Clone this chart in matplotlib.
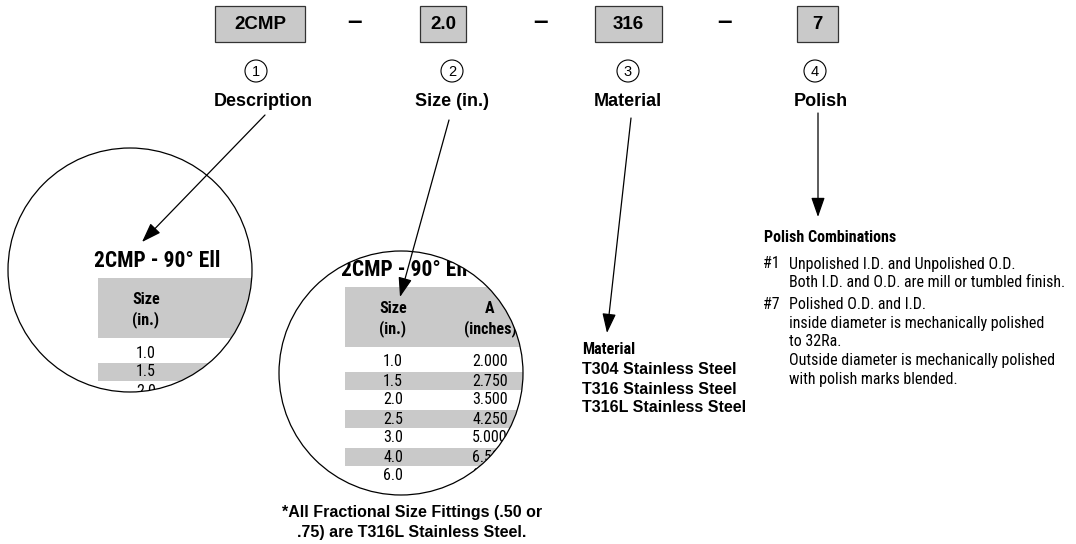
import matplotlib
matplotlib.use("Agg")
import matplotlib.pyplot as plt
import numpy as np
from matplotlib import font_manager
from matplotlib.patches import Circle, Rectangle, FancyArrowPatch, PathPatch
from matplotlib.path import Path

# part number pieces
codes = ["2CMP", "2.0", "316", "7"]
numbers = ["1", "2", "3", "4"]
fields = ["Description", "Size (in.)", "Material", "Polish"]

# dimension table shown in the magnifier circles
table_title = "2CMP - 90° Ell"
sizes = ["1.0", "1.5", "2.0", "2.5", "3.0", "4.0", "6.0"]
a_inches = ["2.000", "2.750", "3.500", "4.250", "5.000", "6.500", "9.500"]

materials = ["T304 Stainless Steel", "T316 Stainless Steel", "T316L Stainless Steel"]
polish_codes = ["#1", "#7"]
polish_notes = [
    ["Unpolished I.D. and Unpolished O.D.",
     "Both I.D. and O.D. are mill or tumbled finish."],
    ["Polished O.D. and I.D.",
     "inside diameter is mechanically polished",
     "to 32Ra.",
     "Outside diameter is mechanically polished",
     "with polish marks blended."],
]
footnote = ["*All Fractional Size Fittings (.50 or", ".75) are T316L Stainless Steel."]

GRAY = "#c9c9c9"
SANS = "Liberation Sans"

# a condensed face for the table / notes text, whichever is installed
font_names = {f.name for f in font_manager.fontManager.ttflist}
NARROW = {"family": "DejaVu Sans", "stretch": "condensed"}
shrink = 0.88
for name in ["Roboto Condensed", "Liberation Sans Narrow", "Arial Narrow"]:
    if name in font_names:
        NARROW = {"family": name}
        shrink = 1.0
        break


def arrow(ax, start, end):
    ax.add_patch(FancyArrowPatch(
        start, end, arrowstyle="-|>,head_length=1.2,head_width=0.42",
        mutation_scale=10, linewidth=0.9, color="black",
        shrinkA=0, shrinkB=0, zorder=10))


def outside_mask(ax, center, radius, box):
    """White patch covering box minus the circle (Agg won't clip text)."""
    x0, y0, x1, y1 = box
    outer = [(x0, y0), (x1, y0), (x1, y1), (x0, y1), (x0, y0)]
    t = np.linspace(0, 2 * np.pi, 361)
    inner = list(zip(center[0] + radius * np.cos(t),
                     center[1] - radius * np.sin(t)))
    verts = outer + inner
    path_codes = ([Path.MOVETO] + [Path.LINETO] * 3 + [Path.CLOSEPOLY]
                  + [Path.MOVETO] + [Path.LINETO] * (len(inner) - 2)
                  + [Path.CLOSEPOLY])
    ax.add_patch(PathPatch(Path(verts, path_codes), facecolor="white",
                           edgecolor="none", zorder=4))


def dim_table(ax, clip, x0, y0, with_a=True):
    header_h = 60
    step = 19
    items = []
    items.append(ax.text(x0 - 4, y0 - 17, table_title, fontsize=15.5 * shrink,
                         fontweight="bold", va="center", ha="left", **NARROW))
    items.append(ax.add_patch(Rectangle((x0, y0), 400, header_h,
                                        facecolor=GRAY, edgecolor="none")))
    size_x = x0 + 48
    a_x = x0 + 145
    items.append(ax.text(size_x, y0 + 32, "Size\n(in.)", fontsize=11.5 * shrink,
                         fontweight="bold", ha="center", va="center",
                         linespacing=1.3, **NARROW))
    if with_a:
        items.append(ax.text(a_x, y0 + 32, "A\n(inches)", fontsize=11.5 * shrink,
                             fontweight="bold", ha="center", va="center",
                             linespacing=1.3, **NARROW))
    for i, s in enumerate(sizes):
        yc = y0 + header_h + 15 + i * step
        if i % 2 == 1:
            items.append(ax.add_patch(Rectangle((x0, yc - 8.7), 400, 17.4,
                                                facecolor=GRAY, edgecolor="none")))
        items.append(ax.text(size_x, yc, s, fontsize=11.5 * shrink, ha="center",
                             va="center", **NARROW))
        if with_a:
            items.append(ax.text(a_x, yc, a_inches[i], fontsize=11.5 * shrink,
                                 ha="center", va="center", **NARROW))
    for it in items:
        it.set_zorder(2)
        it.set_clip_path(clip)


def main() -> None:
    fig = plt.figure(figsize=(10.76, 5.44), dpi=100)
    ax = fig.add_axes([0, 0, 1, 1])
    ax.set_xlim(0, 1076)
    ax.set_ylim(544, 0)
    ax.axis("off")

    # top row: code boxes, separators, numbered circles, field names
    box_x = [215, 420, 595, 797]
    box_w = [90, 46, 67, 41]
    num_x = [256, 452, 628, 815]
    label_x = [263, 452, 628, 821]
    for i, code in enumerate(codes):
        ax.add_patch(Rectangle((box_x[i], 6), box_w[i], 36, facecolor=GRAY,
                               edgecolor="#333333", linewidth=0.9))
        ax.text(box_x[i] + box_w[i] / 2, 24.5, code, fontsize=13.5,
                fontweight="bold", ha="center", va="center", family=SANS)
        ax.add_patch(Circle((num_x[i], 71), 11, facecolor="white",
                            edgecolor="black", linewidth=0.8))
        ax.text(num_x[i], 71.5, numbers[i], fontsize=10.5, ha="center",
                va="center", family=SANS)
        ax.text(label_x[i], 101, fields[i], fontsize=13, fontweight="bold",
                ha="center", va="center", family=SANS)
    for dx in [354, 541, 725]:
        ax.text(dx, 22, "–", fontsize=19, fontweight="bold", ha="center",
                va="center", family=SANS)

    # magnifier circles
    c1 = Circle((130, 270), 122, facecolor="white", edgecolor="none", zorder=1)
    c2 = Circle((401, 373), 122, facecolor="white", edgecolor="none", zorder=1)
    ax.add_patch(c1)
    ax.add_patch(c2)
    dim_table(ax, c1, 98, 278, with_a=False)
    dim_table(ax, c2, 345, 287, with_a=True)
    outside_mask(ax, (130, 270), 122, (80, 232, 262, 485))
    outside_mask(ax, (401, 373), 122, (272, 245, 560, 499))
    for c in (c1, c2):
        ax.add_patch(Circle(c.center, c.radius, facecolor="none",
                            edgecolor="black", linewidth=0.9, zorder=5))

    for j, line in enumerate(footnote):
        ax.text(412, 513 + j * 20, line, fontsize=11.5, fontweight="bold",
                ha="center", va="center", family=SANS)

    # arrows
    arrow(ax, (265, 115), (142, 242))
    arrow(ax, (449, 120), (400, 297))
    arrow(ax, (631, 118), (607, 333))
    arrow(ax, (818, 113), (818, 217))

    # material list
    ax.text(582, 349, "Material", fontsize=11.5 * shrink, fontweight="bold",
            ha="left", va="center", **NARROW)
    for k, m in enumerate(materials):
        ax.text(582, 370 + k * 19, m, fontsize=11.5, fontweight="bold",
                ha="left", va="center", family=SANS)

    # polish notes
    ax.text(764, 238, "Polish Combinations", fontsize=11.5 * shrink,
            fontweight="bold", ha="left", va="center", **NARROW)
    y = 264
    for code, lines in zip(polish_codes, polish_notes):
        ax.text(763, y, code, fontsize=11.5 * shrink, ha="left", va="center",
                **NARROW)
        for line in lines:
            ax.text(789, y, line, fontsize=11.5 * shrink, ha="left",
                    va="center", **NARROW)
            y += 18.7
        y += 3

    fig.savefig("out.png", dpi=100, facecolor="white")
    plt.close(fig)


if __name__ == "__main__":
    main()
